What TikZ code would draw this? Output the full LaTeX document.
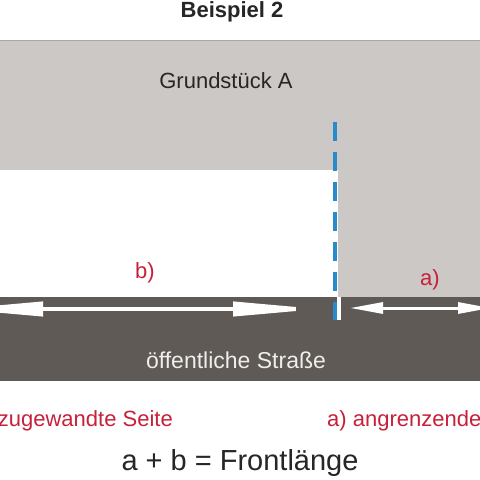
\documentclass[tikz,border=0pt]{standalone}
\usepackage{fontspec}
\setmainfont{Liberation Sans}
\usetikzlibrary{arrows.meta}
\definecolor{lotgray}{HTML}{CCC8C5}
\definecolor{edgegray}{HTML}{A9A6A3}
\definecolor{road}{HTML}{5F5A55}
\definecolor{redtxt}{HTML}{C8203A}
\definecolor{blueline}{HTML}{2A8BCB}
\definecolor{ink}{HTML}{262626}
\definecolor{roadtxt}{HTML}{F0EEEC}
\begin{document}
\begin{tikzpicture}[x=1pt,y=-1pt,
  txt/.style={inner sep=0pt, anchor=base, font=\fontsize{22}{26}\selectfont},
  redlbl/.style={txt, text=redtxt},
  dimarrow/.style={draw=white, fill=white}]
\useasboundingbox (0,0) rectangle (480,480);
\fill[white] (0,0) rectangle (480,480);
% Grundstück A
\fill[lotgray] (0,40) rectangle (480,297);
\fill[white] (0,170) rectangle (338,297);
\draw[edgegray, line width=1.2pt] (0,40.6) -- (480,40.6);
% road
\fill[road] (0,297) rectangle (480,381);
\fill[white] (337,297) rectangle (341,320);
\draw[blueline, line width=4pt, dash pattern=on 19pt off 11pt] (335,122) -- (335,320);
% dimension arrows
\coordinate (bL) at (-45,309);
\coordinate (bR) at (321,309);
\coordinate (aL) at (350,308);
\coordinate (aR) at (491,308);
\draw[dimarrow, line width=4pt, {Triangle[length=88pt,width=14pt]}-{Triangle[length=88pt,width=14pt]}] (bL) -- (bR);
\draw[dimarrow, line width=3pt, {Triangle[length=33pt,width=11pt]}-{Triangle[length=33pt,width=11pt]}] (aL) -- (aR);
% texts
\node[txt, text=ink, font=\fontsize{22}{26}\selectfont\bfseries] (title) at (232,17) {Beispiel 2};
\node[txt, text=ink] (lot) at (226,88) {Grundstück A};
\node[redlbl] (blbl) at (145,278) {b)};
\node[redlbl] (albl) at (430,285) {a)};
\node[txt, text=roadtxt, font=\fontsize{23}{26}\selectfont] (street) at (236,368) {öffentliche Straße};
\node[redlbl, anchor=base east] (bdesc) at (173,426) {zugewandte Seite};
\node[redlbl, anchor=base west] (adesc) at (327,426) {a) angrenzende};
\node[txt, text=ink, font=\fontsize{29}{32}\selectfont] (formula) at (240,470) {a + b = Frontlänge};
\end{tikzpicture}
\end{document}
